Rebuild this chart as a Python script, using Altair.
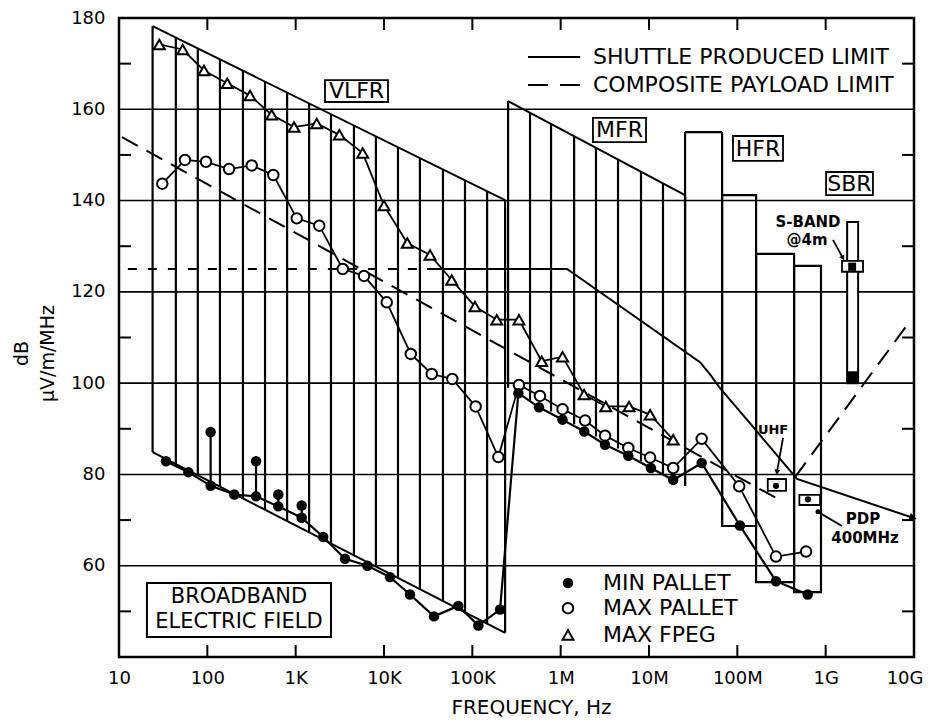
import altair as alt
import pandas as pd

FONT = "DejaVu Sans"

# ---------------- axes ----------------
x_tick_values = [10, 100, 1e3, 1e4, 1e5, 1e6, 1e7, 1e8, 1e9, 1e10]
x_tick_labels = ["10", "100", "1K", "10K", "100K", "1M", "10M", "100M", "1G", "10G"]
x_inner_ticks = [100, 1e3, 1e4, 1e5, 1e6, 1e7, 1e8, 1e9]
y_tick_values = [60, 80, 100, 120, 140, 160, 180]
y_grid_values = [60, 80, 100, 120, 140, 160]
y_minor_ticks = [50, 70, 90, 110, 130, 150, 170]

# ---------------- channel hatching ----------------
vlfr_freq = [24, 44, 78, 139, 253, 450, 800, 1420, 2510, 4570, 8100, 14400,
             25500, 46500, 82600, 147000, 235000]
vlfr_top = [178.2, 175.7, 173.3, 170.9, 168.4, 166.1, 163.7, 161.3, 158.9,
            156.5, 154.1, 151.7, 149.3, 146.9, 144.5, 142.1, 140.1]
vlfr_bottom = [84.9, 82.3, 79.8, 77.4, 74.8, 72.3, 69.8, 67.3, 64.9, 62.3,
               59.8, 57.4, 54.9, 52.3, 49.9, 47.4, 45.3]

mfr_freq = [2.54e5, 4.5e5, 7.78e5, 1.42e6, 2.51e6, 4.46e6, 8.12e6, 1.44e7, 2.56e7]
mfr_top = [161.8, 159.2, 156.8, 154.1, 151.6, 149.0, 146.3, 143.8, 141.2]
mfr_bottom = [99.0, 96.3, 93.8, 91.0, 88.3, 85.7, 82.9, 80.2, 77.5]

hfr_edge_freq = [2.56e7, 6.72e7]
hfr_edge_top = [155.0, 155.0]
hfr_edge_bottom = [77.5, 68.7]
hfr_lo = [6.72e7, 1.63e8, 4.39e8]
hfr_hi = [1.63e8, 4.39e8, 8.85e8]
hfr_top = [141.2, 128.3, 125.7]
hfr_bot = [68.7, 56.4, 54.2]

# envelope edges
vlfr_top_line_f = [24, 235000]
vlfr_top_line_v = [178.2, 140.1]
vlfr_bot_line_f = [24, 235000]
vlfr_bot_line_v = [84.9, 45.3]
mfr_top_line_f = [2.54e5, 2.56e7]
mfr_top_line_v = [161.8, 141.2]

# ---------------- limits ----------------
shuttle_f = [3.07e4, 1.18e6, 3.78e7, 4.91e7, 6.37e7, 1.51e8, 4.74e8, 9.75e9]
shuttle_v = [125, 125, 104.6, 101.9, 98.9, 90.4, 79.0, 70.5]
shuttle_dash_f = [12.6, 2.37e4]
shuttle_dash_v = [125, 125]
comp1_f = [10.8, 2.89e8]
comp1_v = [153.9, 74.6]
comp2_f = [4.5e8, 8.34e9]
comp2_v = [79.4, 112.7]

# ---------------- measurements ----------------
fpeg_f = [28.6, 52.6, 91.6, 168, 304, 535, 958, 1730, 3120, 5740, 10000, 18360,
          33200, 58400, 107000, 189000, 337000, 610000, 1.05e6, 1.84e6, 3.24e6,
          5.94e6, 1.03e7, 1.88e7]
fpeg_v = [174.2, 173.1, 168.5, 165.7, 163.0, 158.8, 156.1, 156.9, 154.4, 150.4,
          138.9, 130.7, 128.1, 122.6, 116.8, 113.9, 113.9, 104.8, 105.8, 97.5,
          94.9, 94.9, 93.1, 87.6]

maxp_f = [30.9, 55.8, 96.6, 176, 318, 558, 1028, 1850, 3410, 5940, 10740, 20100,
          34700, 59300, 109000, 197000, 337000, 583000, 1.05e6, 1.89e6, 3.18e6,
          5.83e6, 1.03e7, 1.88e7, 3.95e7, 1.05e8, 2.74e8, 6.0e8]
maxp_v = [143.7, 148.9, 148.5, 146.9, 147.7, 145.6, 136.1, 134.5, 125.0, 123.5,
          117.7, 106.4, 102.0, 100.9, 94.9, 83.8, 99.6, 97.2, 94.3, 91.8, 88.5,
          85.8, 83.7, 81.4, 87.8, 77.4, 62.0, 63.1]

minp_f = [34.0, 61.0, 109, 202, 356, 636, 1170, 2050, 3620, 6480, 11700, 19700,
          36800, 69300, 117000, 206000, 332000, 569000, 1.05e6, 1.85e6, 3.18e6,
          5.83e6, 1.05e7, 1.88e7, 3.95e7, 1.07e8, 2.74e8, 6.26e8]
minp_v = [82.9, 80.5, 77.5, 75.6, 75.2, 73.0, 70.5, 66.3, 61.5, 60.0, 57.5, 53.7,
          48.9, 51.2, 46.9, 50.4, 97.8, 94.7, 92.0, 89.4, 86.5, 84.1, 81.4, 78.8,
          82.5, 68.8, 56.6, 53.7]

stem_f = [109, 356, 636, 1170]
stem_low = [77.5, 75.2, 73.0, 70.5]
stem_high = [89.3, 82.9, 75.6, 73.2]

# ---------------- annotations ----------------
region_label = ["VLFR", "MFR", "HFR", "SBR"]
region_f = [4887, 4.63e6, 1.71e8, 1.86e9]
region_v = [164.0, 155.45, 151.4, 143.7]
region_f1 = [2148, 2.32e6, 8.93e7, 1.01e9]
region_f2 = [1.11e4, 9.25e6, 3.29e8, 3.43e9]
region_v1 = [161.6, 152.8, 148.7, 141.2]
region_v2 = [166.4, 158.1, 154.15, 146.26]

bb_lines = ["BROADBAND", "ELECTRIC FIELD"]
bb_f = [228, 228]
bb_v = [53.1, 47.6]
bb_box = dict(f=20.7, f2=2512, v=44.4, v2=56.2)

legend_top_text = ["SHUTTLE PRODUCED LIMIT", "COMPOSITE PAYLOAD LIMIT"]
legend_top_v = [171.45, 165.3]
legend_top_text_f = 2.32e6
legend_top_line_f = [4.27e5, 1.66e6]

legend_bot_text = ["MIN PALLET", "MAX PALLET", "MAX FPEG"]
legend_bot_v = [56.2, 50.7, 44.8]
legend_bot_text_f = 3.01e6
legend_bot_marker_f = 1.21e6

small_text = ["S-BAND", "@4m", "UHF", "PDP", "400MHz"]
small_f = [6.31e8, 6.15e8, 2.54e8, 2.65e9, 2.79e9]
small_v = [135.3, 131.4, 89.7, 70.2, 66.1]
small_size = [15, 15, 13, 15, 15]

arrow_grp = ["s", "s", "u", "u", "p", "p"]
arrow_f = [1.21e9, 1.57e9, 3.29e8, 2.81e8, 8.18e8, 1.53e9]
arrow_v = [131.4, 127.4, 88.0, 80.5, 71.8, 68.7]

sband_bar = dict(f=1.75e9, f2=2.33e9, v=100.0, v2=135.3)
sband_tip = dict(f=1.75e9, f2=2.33e9, v=100.0, v2=102.6)
sband_box = dict(f=1.53e9, f2=2.65e9, v=124.4, v2=126.8)
sband_dot = dict(f=1.8e9, f2=2.21e9, v=124.6, v2=126.4)
uhf_box = dict(f=2.21e8, f2=3.56e8, v=76.4, v2=79.0)
uhf_dot = dict(f=2.74e8, v=77.5)
pdp_box = dict(f=5.04e8, f2=8.65e8, v=73.3, v2=75.5)
pdp_dot = dict(f=6.3e8, v=74.55)

# ---------------- chart ----------------
W, H = 795, 639
XS = alt.Scale(type="log", domain=[10, 1e10])
YS = alt.Scale(domain=[40, 180])

label_arr = "[" + ",".join("'%s'" % s for s in x_tick_labels) + "]"
XAXIS = alt.Axis(values=x_tick_values,
                 labelExpr=label_arr + "[round(log(datum.value)/LN10)-1]",
                 title="FREQUENCY, Hz", grid=False, ticks=False, domain=False,
                 labelFont=FONT, labelFontSize=18, labelColor="black",
                 labelPadding=12, labelFlush=False,
                 labelAlign=alt.condition("datum.value > 5e9", alt.value("right"), alt.value("center")),
                 labelOffset=alt.condition("datum.value > 5e9", alt.value(9), alt.value(0)),
                 titleFont=FONT, titleFontSize=20, titleFontWeight="normal",
                 titleColor="black", titlePadding=10, titleX=412)
YAXIS = alt.Axis(values=y_tick_values, title=["dB", "µV/m/MHz"], grid=False,
                 ticks=False, domain=False, labelFont=FONT, labelFontSize=18,
                 labelColor="black", labelPadding=14, labelFlush=False,
                 titleFont=FONT, titleFontSize=19, titleFontWeight="normal",
                 titleColor="black", titlePadding=13, titleY=335,
                 titleLineHeight=26)


def X(field="f"):
    return alt.X(f"{field}:Q", scale=XS, axis=XAXIS)


def Y(field="v"):
    return alt.Y(f"{field}:Q", scale=YS, axis=YAXIS)


def df(**cols):
    return pd.DataFrame(cols)


layers = []

# gridlines
layers.append(alt.Chart(df(v=y_grid_values)).mark_rule(color="black", strokeWidth=1.6)
              .encode(y=Y()))
# inner ticks
tx = df(f=x_inner_ticks)
layers.append(alt.Chart(tx).mark_rule(color="black", strokeWidth=2)
              .encode(x=X(), y=alt.value(0), y2=alt.value(12)))
layers.append(alt.Chart(tx).mark_rule(color="black", strokeWidth=2)
              .encode(x=X(), y=alt.value(H), y2=alt.value(H - 12)))
ty = df(v=y_minor_ticks)
layers.append(alt.Chart(ty).mark_rule(color="black", strokeWidth=2)
              .encode(y=Y(), x=alt.value(0), x2=alt.value(12)))
layers.append(alt.Chart(ty).mark_rule(color="black", strokeWidth=2)
              .encode(y=Y(), x=alt.value(W), x2=alt.value(W - 12)))

# hatching
hatch = pd.concat([
    df(f=vlfr_freq, v=vlfr_top, v2=vlfr_bottom),
    df(f=mfr_freq, v=mfr_top, v2=mfr_bottom),
    df(f=hfr_edge_freq, v=hfr_edge_top, v2=hfr_edge_bottom),
])
layers.append(alt.Chart(hatch).mark_rule(color="black", strokeWidth=2.2)
              .encode(x=X(), y=Y(), y2="v2:Q"))
layers.append(alt.Chart(df(f=[hfr_edge_freq[0]], f2=[hfr_edge_freq[1]], v=[hfr_edge_top[0]]))
              .mark_rule(color="black", strokeWidth=2.2)
              .encode(x=X(), x2="f2:Q", y=Y()))
layers.append(alt.Chart(df(f=hfr_lo, f2=hfr_hi, v=hfr_top, v2=hfr_bot))
              .mark_rect(fillOpacity=0, stroke="black", strokeWidth=2.2)
              .encode(x=X(), x2="f2:Q", y=Y(), y2="v2:Q"))

env = pd.concat([
    df(f=vlfr_top_line_f, v=vlfr_top_line_v, g="a"),
    df(f=vlfr_bot_line_f, v=vlfr_bot_line_v, g="b"),
    df(f=mfr_top_line_f, v=mfr_top_line_v, g="c"),
])
layers.append(alt.Chart(env).mark_line(color="black", strokeWidth=2)
              .encode(x=X(), y=Y(), detail="g:N"))

# limits
layers.append(alt.Chart(df(f=shuttle_f, v=shuttle_v)).mark_line(color="black", strokeWidth=2)
              .encode(x=X(), y=Y()))
layers.append(alt.Chart(df(f=shuttle_dash_f, v=shuttle_dash_v))
              .mark_line(color="black", strokeWidth=2, strokeDash=[9, 11])
              .encode(x=X(), y=Y()))
layers.append(alt.Chart(df(f=[shuttle_f[-1]], v=[shuttle_v[-1]]))
              .mark_point(shape="triangle-up", filled=True, color="black", size=70,
                          angle=108, opacity=1)
              .encode(x=X(), y=Y()))
comp = pd.concat([df(f=comp1_f, v=comp1_v, g="a"), df(f=comp2_f, v=comp2_v, g="b")])
layers.append(alt.Chart(comp).mark_line(color="black", strokeWidth=2, strokeDash=[18, 10])
              .encode(x=X(), y=Y(), detail="g:N"))

# measurement lines
layers.append(alt.Chart(df(f=fpeg_f, v=fpeg_v)).mark_line(color="black", strokeWidth=1.8)
              .encode(x=X(), y=Y()))
layers.append(alt.Chart(df(f=maxp_f, v=maxp_v)).mark_line(color="black", strokeWidth=1.8)
              .encode(x=X(), y=Y()))
layers.append(alt.Chart(df(f=minp_f, v=minp_v)).mark_line(color="black", strokeWidth=2.2)
              .encode(x=X(), y=Y()))
layers.append(alt.Chart(df(f=stem_f, v=stem_low, v2=stem_high))
              .mark_rule(color="black", strokeWidth=2.2)
              .encode(x=X(), y=Y(), y2="v2:Q"))

# markers
layers.append(alt.Chart(df(f=fpeg_f, v=fpeg_v))
              .mark_point(shape="triangle-up", filled=True, fill="white", stroke="black",
                          strokeWidth=2, size=120, opacity=1)
              .encode(x=X(), y=Y()))
layers.append(alt.Chart(df(f=maxp_f, v=maxp_v))
              .mark_point(shape="circle", filled=True, fill="white", stroke="black",
                          strokeWidth=2, size=110, opacity=1)
              .encode(x=X(), y=Y()))
layers.append(alt.Chart(df(f=minp_f + stem_f, v=minp_v + stem_high))
              .mark_point(shape="circle", filled=True, color="black", size=110, opacity=1)
              .encode(x=X(), y=Y()))

# S-band, UHF, PDP boxes
layers.append(alt.Chart(pd.DataFrame([sband_bar])).mark_rect(fill="white", stroke="black", strokeWidth=2)
              .encode(x=X(), x2="f2:Q", y=Y(), y2="v2:Q"))
layers.append(alt.Chart(pd.DataFrame([sband_tip])).mark_rect(color="black")
              .encode(x=X(), x2="f2:Q", y=Y(), y2="v2:Q"))
layers.append(alt.Chart(pd.DataFrame([sband_box, uhf_box, pdp_box]))
              .mark_rect(fill="white", stroke="black", strokeWidth=1.8)
              .encode(x=X(), x2="f2:Q", y=Y(), y2="v2:Q"))
layers.append(alt.Chart(pd.DataFrame([sband_dot])).mark_rect(color="black")
              .encode(x=X(), x2="f2:Q", y=Y(), y2="v2:Q"))
layers.append(alt.Chart(pd.DataFrame([uhf_dot, pdp_dot]))
              .mark_point(shape="circle", filled=True, color="black", size=40, opacity=1)
              .encode(x=X(), y=Y()))
layers.append(alt.Chart(df(f=arrow_f, v=arrow_v, g=arrow_grp))
              .mark_line(color="black", strokeWidth=1.8)
              .encode(x=X(), y=Y(), detail="g:N"))
layers.append(alt.Chart(df(f=[arrow_f[1], arrow_f[3]], v=[arrow_v[1], arrow_v[3]], a=[150, 190]))
              .mark_point(shape="triangle-up", filled=True, color="black", size=35, opacity=1)
              .encode(x=X(), y=Y(), angle=alt.Angle("a:Q", scale=None)))
layers.append(alt.Chart(df(f=[arrow_f[4]], v=[arrow_v[4]]))
              .mark_point(shape="circle", filled=True, color="black", size=25, opacity=1)
              .encode(x=X(), y=Y()))

# region boxes and labels
reg = df(t=region_label, f=region_f, v=region_v, f1=region_f1, f2=region_f2,
         v1=region_v1, v2=region_v2)
layers.append(alt.Chart(reg).mark_rect(fill="white", stroke="black", strokeWidth=1.8)
              .encode(x=X("f1"), x2="f2:Q", y=Y("v1"), y2="v2:Q"))
layers.append(alt.Chart(reg).mark_text(font=FONT, fontSize=22, color="black",
                                       align="center", baseline="middle")
              .encode(x=X(), y=Y(), text="t:N"))

layers.append(alt.Chart(pd.DataFrame([bb_box])).mark_rect(fill="white", stroke="black", strokeWidth=2)
              .encode(x=X(), x2="f2:Q", y=Y(), y2="v2:Q"))
layers.append(alt.Chart(df(t=bb_lines, f=bb_f, v=bb_v))
              .mark_text(font=FONT, fontSize=21, color="black", align="center", baseline="middle")
              .encode(x=X(), y=Y(), text="t:N"))

# legends
layers.append(alt.Chart(df(f=legend_top_line_f, v=[legend_top_v[0]] * 2))
              .mark_line(color="black", strokeWidth=2)
              .encode(x=X(), y=Y()))
layers.append(alt.Chart(df(f=legend_top_line_f, v=[legend_top_v[1]] * 2))
              .mark_line(color="black", strokeWidth=2, strokeDash=[20, 12])
              .encode(x=X(), y=Y()))
layers.append(alt.Chart(df(t=legend_top_text, f=[legend_top_text_f] * 2, v=legend_top_v))
              .mark_text(font=FONT, fontSize=22, color="black", align="left", baseline="middle")
              .encode(x=X(), y=Y(), text="t:N"))
layers.append(alt.Chart(df(t=legend_bot_text, f=[legend_bot_text_f] * 3, v=legend_bot_v))
              .mark_text(font=FONT, fontSize=22, color="black", align="left", baseline="middle")
              .encode(x=X(), y=Y(), text="t:N"))
layers.append(alt.Chart(df(f=[legend_bot_marker_f], v=[legend_bot_v[0]]))
              .mark_point(shape="circle", filled=True, color="black", size=110, opacity=1)
              .encode(x=X(), y=Y()))
layers.append(alt.Chart(df(f=[legend_bot_marker_f], v=[legend_bot_v[1]]))
              .mark_point(shape="circle", filled=True, fill="white", stroke="black",
                          strokeWidth=2, size=110, opacity=1)
              .encode(x=X(), y=Y()))
layers.append(alt.Chart(df(f=[legend_bot_marker_f], v=[legend_bot_v[2]]))
              .mark_point(shape="triangle-up", filled=True, fill="white", stroke="black",
                          strokeWidth=2, size=120, opacity=1)
              .encode(x=X(), y=Y()))

layers.append(alt.Chart(df(t=small_text, f=small_f, v=small_v, s=small_size))
              .mark_text(font=FONT, fontWeight="bold", color="black", align="center",
                         baseline="middle")
              .encode(x=X(), y=Y(), text="t:N", size=alt.Size("s:Q", scale=None)))

chart = (alt.layer(*layers)
         .properties(width=W, height=H, background="white",
                     autosize=alt.AutoSizeParams(type="none"),
                     padding={"left": 111, "top": 10, "right": 11, "bottom": 60})
         .configure_view(stroke="black", strokeWidth=2.5))

chart.save("out.html", embed_options={"renderer": "svg", "actions": False})
